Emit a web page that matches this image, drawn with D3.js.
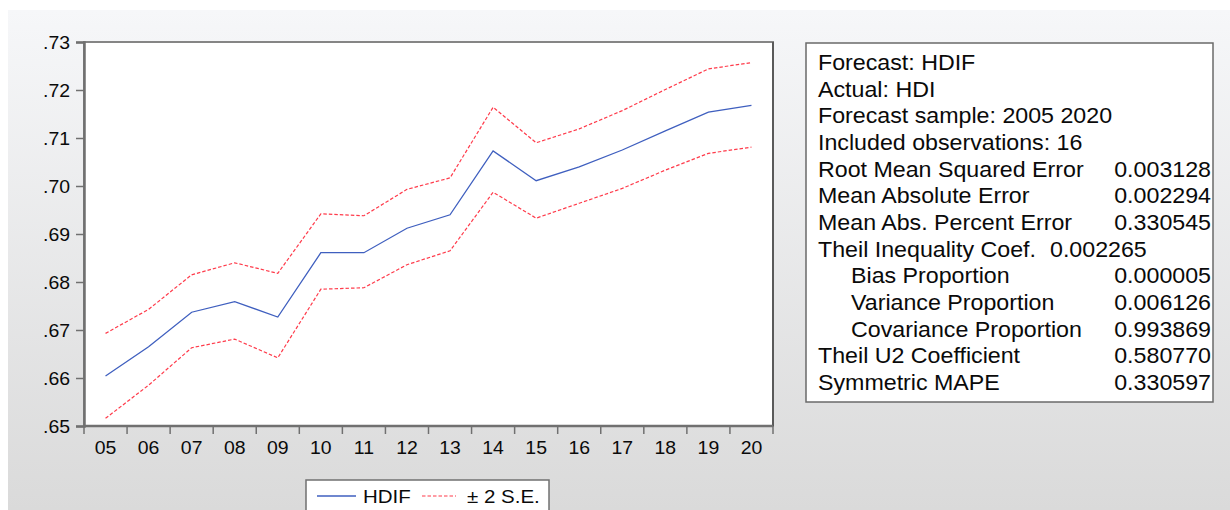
<!DOCTYPE html>
<html>
<head>
<meta charset="utf-8">
<script src="https://cdn.jsdelivr.net/npm/d3@7"></script>
<style>
  body { margin: 0; background: #fff; }
  svg { display: block; font-family: "Liberation Sans", Arial, sans-serif; }
</style>
</head>
<body>
<div id="chart"></div>
<script>
const years = ["05","06","07","08","09","10","11","12","13","14","15","16","17","18","19","20"];
const hdif = [0.6604,0.6665,0.6737,0.6759,0.6727,0.6861,0.6861,0.6912,0.6940,0.7073,0.7011,0.7040,0.7075,0.7115,0.7154,0.7168];
const upper = [0.6693,0.6743,0.6815,0.6840,0.6818,0.6942,0.6938,0.6993,0.7017,0.7164,0.7090,0.7119,0.7157,0.7201,0.7244,0.7257];
const lower = [0.6516,0.6585,0.6663,0.6681,0.6642,0.6785,0.6788,0.6836,0.6865,0.6987,0.6933,0.6964,0.6995,0.7033,0.7068,0.7081];
const yTicks = [0.65,0.66,0.67,0.68,0.69,0.70,0.71,0.72,0.73];

const statLabels = ["Forecast: HDIF","Actual: HDI","Forecast sample: 2005 2020","Included observations: 16",
  "Root Mean Squared Error","Mean Absolute Error","Mean Abs. Percent Error","Theil Inequality Coef.",
  "Bias Proportion","Variance Proportion","Covariance Proportion","Theil U2 Coefficient","Symmetric MAPE"];
const statValues = ["","","","","0.003128","0.002294","0.330545","0.002265","0.000005","0.006126","0.993869","0.580770","0.330597"];
const statIndent = [0,0,0,0,0,0,0,0,1,1,1,0,0];

const W = 1230, H = 510;
const SX = 1.08; // the original text is slightly wider than Arial
const svg = d3.select("#chart").append("svg").attr("width", W).attr("height", H);

// text drawn at (x,y) and stretched horizontally around its anchor
function stext(parent, x, y, size, str, anchor) {
  return parent.append("text")
    .attr("transform", `translate(${x},${y}) scale(${SX},1)`)
    .attr("text-anchor", anchor || "start")
    .attr("font-size", size).attr("fill", "#0a0a0a")
    .text(str);
}

const defs = svg.append("defs");
const grad = defs.append("linearGradient").attr("id", "bg").attr("x1", 0).attr("y1", 0).attr("x2", 0).attr("y2", 1);
grad.append("stop").attr("offset", "0%").attr("stop-color", "#f6f7f9");
grad.append("stop").attr("offset", "100%").attr("stop-color", "#dadada");
svg.append("rect").attr("x", 8).attr("y", 10).attr("width", W - 8).attr("height", H - 10).attr("fill", "url(#bg)");

const plot = { left: 84, top: 42, right: 773, bottom: 426 };

const x = d3.scaleBand().domain(years).range([plot.left, plot.right]);
const y = d3.scaleLinear().domain([0.65, 0.73]).range([plot.bottom, plot.top]);

svg.append("rect")
  .attr("x", plot.left).attr("y", plot.top)
  .attr("width", plot.right - plot.left).attr("height", plot.bottom - plot.top)
  .attr("fill", "#fff").attr("stroke", "#858585").attr("stroke-width", 2);
svg.append("line").attr("x1", plot.right).attr("x2", plot.right).attr("y1", plot.top).attr("y2", plot.bottom)
  .attr("stroke", "#5a5a5a").attr("stroke-width", 2);

// y axis
const yAxis = svg.append("g").attr("transform", `translate(${plot.left},0)`)
  .call(d3.axisLeft(y).tickValues(yTicks).tickSize(8).tickFormat(""));
yAxis.select(".domain").attr("stroke", "#707070").attr("stroke-width", 2.5);
yAxis.selectAll(".tick line").attr("stroke", "#707070").attr("stroke-width", 1.5);
yTicks.forEach(t => stext(svg, 70, y(t) + 6.5, 18, d3.format(".2f")(t).replace(/^0/, ""), "end"));

// x axis: ticks at band boundaries, labels at centres
const xAxis = svg.append("g").attr("transform", `translate(0,${plot.bottom})`);
xAxis.append("line").attr("x1", plot.left).attr("x2", plot.right).attr("stroke", "#707070").attr("stroke-width", 2.5);
const bounds = years.map(d => x(d)).concat([plot.right]);
xAxis.selectAll("line.tk").data(bounds).enter().append("line").attr("class", "tk")
  .attr("x1", d => d).attr("x2", d => d).attr("y1", 0).attr("y2", 8)
  .attr("stroke", "#707070").attr("stroke-width", 1.5);
years.forEach(d => stext(xAxis, x(d) + x.bandwidth() / 2, 28, 18, d, "middle"));

const line = d3.line().x((d, i) => x(years[i]) + x.bandwidth() / 2).y(d => y(d));

svg.append("path").datum(upper).attr("d", line).attr("fill", "none")
  .attr("stroke", "#ff3b4b").attr("stroke-width", 1.2).attr("stroke-dasharray", "3.5,2");
svg.append("path").datum(lower).attr("d", line).attr("fill", "none")
  .attr("stroke", "#ff3b4b").attr("stroke-width", 1.2).attr("stroke-dasharray", "3.5,2");
svg.append("path").datum(hdif).attr("d", line).attr("fill", "none")
  .attr("stroke", "#3f5fbf").attr("stroke-width", 1.3);

// legend
const lg = svg.append("g");
lg.append("rect").attr("x", 306).attr("y", 480).attr("width", 243).attr("height", 40)
  .attr("fill", "#fff").attr("stroke", "#707070").attr("stroke-width", 1.5);
lg.append("line").attr("x1", 317).attr("x2", 356).attr("y1", 496).attr("y2", 496)
  .attr("stroke", "#3f5fbf").attr("stroke-width", 1.3);
stext(lg, 363, 503, 19, "HDIF");
lg.append("line").attr("x1", 422).attr("x2", 456).attr("y1", 496).attr("y2", 496)
  .attr("stroke", "#ff3b4b").attr("stroke-width", 1.2).attr("stroke-dasharray", "3.5,2");
stext(lg, 467, 503, 19, "± 2 S.E.");

// statistics box
const sb = svg.append("g");
sb.append("rect").attr("x", 806).attr("y", 43).attr("width", 407).attr("height", 359)
  .attr("fill", "#fff").attr("stroke", "#6a6a6a").attr("stroke-width", 1.5);
statLabels.forEach((t, i) => {
  const yy = 62 + i * 26.67 + 8;
  stext(sb, statIndent[i] ? 851 : 818, yy, 21.5, t);
  if (statValues[i]) {
    if (i === 7) stext(sb, 1050, yy, 21.5, statValues[i]);
    else stext(sb, 1211, yy, 21.5, statValues[i], "end");
  }
});
</script>
</body>
</html>
